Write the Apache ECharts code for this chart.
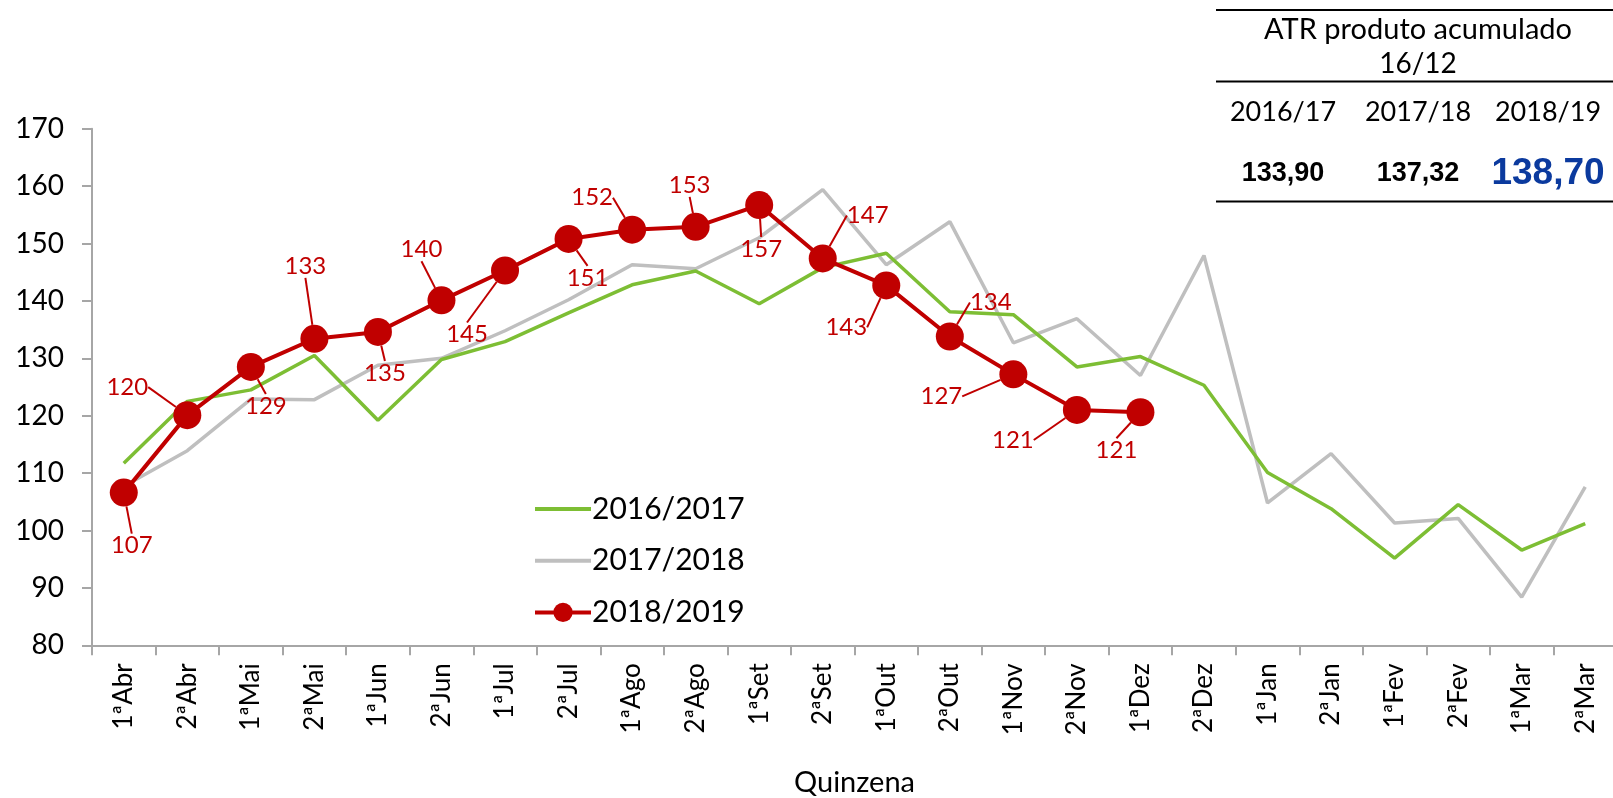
<!DOCTYPE html>
<html>
<head>
<meta charset="utf-8">
<script src="https://cdn.jsdelivr.net/npm/echarts@6/dist/echarts.min.js"></script>
<style>
  html, body { margin: 0; padding: 0; background: #fff; }
  #main { width: 1613px; height: 798px; }
</style>
</head>
<body>
<div id="main"></div>
<script>
var quinzenas = ['1ªAbr','2ªAbr','1ªMai','2ªMai','1ªJun','2ªJun','1ªJul','2ªJul','1ªAgo','2ªAgo',
  '1ªSet','2ªSet','1ªOut','2ªOut','1ªNov','2ªNov','1ªDez','2ªDez','1ªJan','2ªJan','1ªFev','2ªFev','1ªMar','2ªMar'];

var safra1617 = [111.7,122.5,124.5,130.5,119.2,129.8,132.9,137.9,142.8,145.2,139.5,145.8,
  148.3,138.1,137.6,128.5,130.3,125.3,110.1,103.8,95.2,104.5,96.6,101.2];
var safra1718 = [107.7,113.9,122.9,122.8,128.8,130.0,134.8,140.2,146.3,145.6,151.0,159.4,
  146.3,153.8,132.7,136.9,127.0,147.9,104.8,113.4,101.3,102.1,88.4,107.6];
var safra1819 = [106.6,120.1,128.5,133.4,134.6,140.1,145.3,150.8,152.4,152.9,156.7,147.4,
  142.7,133.8,127.2,121.0,120.6];

var seriesNames = ['2016/2017','2017/2018','2018/2019'];

var tabelaTitulo = ['ATR produto acumulado', '16/12'];
var tabelaSafras = ['2016/17','2017/18','2018/19'];
var tabelaValores = ['133,90','137,32','138,70'];

// label offsets for 2018/2019 values (dx, dy in px from the point)
var labelOffsets = [[8,53],[-60,-28],[15,39],[-9,-73],[7,41],[-20,-51],[-38,64],[19,39],
  [-40,-32],[-6,-42],[2,44],[45,-43],[-40,42],[41,-34],[-72,22],[-64,30],[-24,38]];

var FONT = 'Lato';
var myChart = echarts.init(document.getElementById('main'));

var tabX = [1283, 1418, 1548];
var graphics = [
  { type:'line', shape:{x1:1216,y1:10,x2:1613,y2:10}, style:{stroke:'#000',lineWidth:2} },
  { type:'line', shape:{x1:1216,y1:81.5,x2:1613,y2:81.5}, style:{stroke:'#000',lineWidth:2} },
  { type:'line', shape:{x1:1216,y1:201.5,x2:1613,y2:201.5}, style:{stroke:'#000',lineWidth:2} },
  { type:'text', x:1418, y:30, style:{text:tabelaTitulo[0], fill:'#000', font:'29px ' + FONT, align:'center', verticalAlign:'middle'} },
  { type:'text', x:1418, y:64, style:{text:tabelaTitulo[1], fill:'#000', font:'28px ' + FONT, align:'center', verticalAlign:'middle'} }
];
tabelaSafras.forEach(function(s, i){
  graphics.push({ type:'text', x:tabX[i], y:112, style:{text:s, fill:'#000', font:'27px ' + FONT, align:'center', verticalAlign:'middle'} });
});
tabelaValores.forEach(function(v, i){
  var last = i === tabelaValores.length - 1;
  graphics.push({ type:'text', x:tabX[i], y:174, style:{text:v,
    fill: last ? '#0B3A9E' : '#000',
    font: 'bold ' + (last ? '37px ' : '27px ') + '"Liberation Sans"',
    align:'center', verticalAlign:'middle'} });
});

var option = {
  animation: false,
  backgroundColor: '#fff',
  textStyle: { fontFamily: FONT },
  grid: { left: 92, top: 128.7, width: 1525, height: 516.6, containLabel: false, outerBoundsMode: 'none' },
  legend: {
    orient: 'vertical',
    left: 528, top: 489,
    itemWidth: 56, itemHeight: 24, itemGap: 21.7,
    textStyle: { fontSize: 30, color: '#000', fontFamily: FONT, padding: [0,0,0,-4] },
    data: [
      { name: seriesNames[0], itemStyle: { opacity: 0 }, lineStyle: { width: 4 } },
      { name: seriesNames[1], itemStyle: { opacity: 0 }, lineStyle: { width: 4 } },
      { name: seriesNames[2], lineStyle: { width: 4 } }
    ]
  },
  xAxis: {
    type: 'category',
    data: quinzenas,
    boundaryGap: true,
    name: 'Quinzena',
    nameLocation: 'middle',
    nameGap: 123,
    nameMoveOverlap: false,
    nameTextStyle: { fontSize: 29, color: '#000', fontFamily: FONT },
    axisLine: { lineStyle: { color: '#A6A6A6', width: 2 } },
    axisTick: { show: true, length: 10, alignWithLabel: false, lineStyle: { color: '#A6A6A6', width: 2 } },
    axisLabel: { rotate: 90, margin: 18, fontSize: 26, color: '#000', fontFamily: FONT, interval: 0 },
    splitLine: { show: false }
  },
  yAxis: {
    type: 'value',
    min: 80, max: 170, interval: 10,
    axisLine: { show: true, lineStyle: { color: '#A6A6A6', width: 2 } },
    axisTick: { show: true, length: 10, lineStyle: { color: '#A6A6A6', width: 2 } },
    axisLabel: { margin: 28, fontSize: 28, color: '#000', fontFamily: FONT },
    splitLine: { show: false }
  },
  series: [
    {
      name: seriesNames[0], type: 'line', data: safra1617,
      symbol: 'none', z: 2,
      lineStyle: { color: '#7DBE34', width: 3.5 },
      itemStyle: { color: '#7DBE34' }
    },
    {
      name: seriesNames[1], type: 'line', data: safra1718,
      symbol: 'none', z: 1,
      lineStyle: { color: '#BFBFBF', width: 3.5 },
      itemStyle: { color: '#BFBFBF' }
    },
    {
      name: seriesNames[2], type: 'line', data: safra1819,
      symbol: 'circle', symbolSize: 28, z: 3,
      lineStyle: { color: '#C00000', width: 4 },
      itemStyle: { color: '#C00000' },
      label: {
        show: true, position: 'inside', color: '#C00000', fontSize: 24, fontFamily: FONT,
        formatter: function(p){ return Math.round(p.value); }
      },
      labelLine: { show: true, lineStyle: { color: '#C00000', width: 2 } },
      labelLayout: function(p){
        var o = labelOffsets[p.dataIndex];
        return { dx: o[0], dy: o[1] };
      }
    }
  ],
  graphic: graphics
};
myChart.setOption(option);
</script>
</body>
</html>
